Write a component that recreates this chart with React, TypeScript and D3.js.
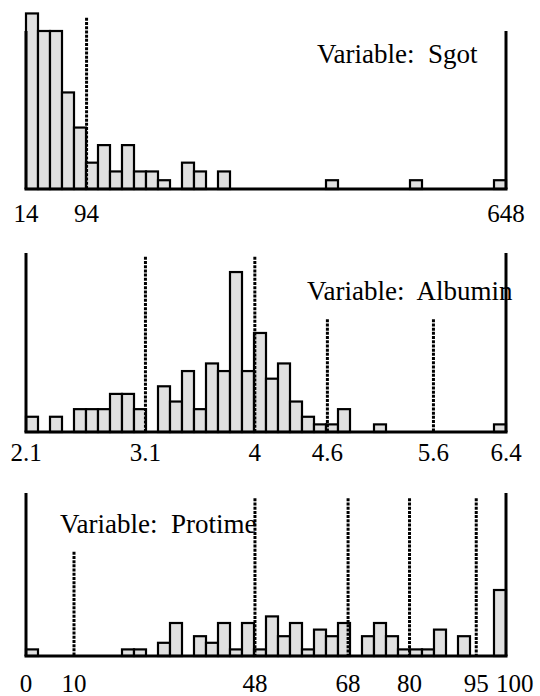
import React, { useEffect, useRef } from "react";
import * as d3 from "d3";

// counts per bin, 40 equal bins over the variable's range
const sgotCounts = [20, 18, 18, 11, 7, 3, 5, 2, 5, 2, 2, 1, 0, 3, 2, 0, 2, 0, 0, 0, 0, 0, 0, 0, 0, 1, 0, 0, 0, 0, 0, 0, 1, 0, 0, 0, 0, 0, 0, 1];
const sgotRange = [14, 648];
const sgotCuts = [94];
const sgotCutHeights = [19.5];
const sgotTicks = [14, 94, 648];
const sgotTickLabels = ["14", "94", "648"];

const albuminCounts = [2, 0, 2, 0, 3, 3, 3, 5, 5, 3, 0, 6, 4, 8, 3, 9, 8, 21, 8, 13, 7, 9, 4, 2, 1, 1, 3, 0, 0, 1, 0, 0, 0, 0, 0, 0, 0, 0, 0, 1];
const albuminRange = [2.1, 6.4];
const albuminCuts = [3.17, 4.15, 4.8, 5.75];
const albuminCutHeights = [23, 23, 14.8, 14.8];
const albuminTicks = [2.1, 3.17, 4.15, 4.8, 5.75, 6.4];
const albuminTickLabels = ["2.1", "3.1", "4", "4.6", "5.6", "6.4"];

const protimeCounts = [1, 0, 0, 0, 0, 0, 0, 0, 1, 1, 0, 2, 5, 0, 3, 2, 5, 1, 5, 1, 6, 3, 5, 1, 4, 3, 5, 0, 3, 5, 3, 1, 1, 1, 4, 0, 3, 0, 0, 10];
const protimeRange = [0, 100];
const protimeCuts = [10, 47.7, 67.1, 79.9, 93.8];
const protimeCutHeights = [15.8, 23.9, 23.9, 23.9, 23.9];
const protimeTicks = [0, 10, 47.7, 67.1, 79.9, 93.8, 100];
const protimeTickLabels = ["0", "10", "48", "68", "80", "95", "100"];

const panels = [
  { name: "Sgot", counts: sgotCounts, range: sgotRange, cuts: sgotCuts, cutH: sgotCutHeights, ticks: sgotTicks, tickLabels: sgotTickLabels,
    top: 31, base: 189, yMax: 18, labelY: 221.5, titleX: 317, titleY: 63 },
  { name: "Albumin", counts: albuminCounts, range: albuminRange, cuts: albuminCuts, cutH: albuminCutHeights, ticks: albuminTicks, tickLabels: albuminTickLabels,
    top: 253, base: 432, yMax: 23.5, labelY: 461, titleX: 307, titleY: 300 },
  { name: "Protime", counts: protimeCounts, range: protimeRange, cuts: protimeCuts, cutH: protimeCutHeights, ticks: protimeTicks, tickLabels: protimeTickLabels,
    top: 493, base: 656, yMax: 24.7, labelY: 691.5, titleX: 60, titleY: 533 },
];

const left = 26, right = 506;
const font = "'Liberation Serif', 'Times New Roman', serif";

export default function App() {
  const ref = useRef<SVGSVGElement>(null);

  useEffect(() => {
    const svg = d3.select(ref.current);
    svg.selectAll("*").remove();

    panels.forEach((p) => {
      const g = svg.append("g").attr("class", "panel_" + p.name);
      const x = d3.scaleLinear().domain(p.range).range([left, right]);
      const y = d3.scaleLinear().domain([0, p.yMax]).range([p.base, p.top]);
      const nb = p.counts.length;
      const step = (p.range[1] - p.range[0]) / nb;

      const bins = p.counts.map((c, i) => ({ c, x0: p.range[0] + i * step, x1: p.range[0] + (i + 1) * step })).filter((d) => d.c > 0);

      g.selectAll(".bar")
        .data(bins)
        .join("rect")
        .attr("class", "bar")
        .attr("x", (d) => x(d.x0))
        .attr("width", (d) => x(d.x1) - x(d.x0))
        .attr("y", (d) => y(d.c))
        .attr("height", (d) => y(0) - y(d.c))
        .style("fill", "#e0e0e0")
        .style("stroke", "#000")
        .style("stroke-width", 2.2);

      // axes: left, right and baseline
      g.append("line").attr("x1", left).attr("x2", left).attr("y1", p.top).attr("y2", p.base).style("stroke", "#000").style("stroke-width", 3);
      g.append("line").attr("x1", right).attr("x2", right).attr("y1", p.top).attr("y2", p.base).style("stroke", "#000").style("stroke-width", 3);
      g.append("line").attr("x1", left - 1.5).attr("x2", right + 1.5).attr("y1", p.base).attr("y2", p.base).style("stroke", "#000").style("stroke-width", 3);

      g.selectAll(".cut")
        .data(p.cuts)
        .join("line")
        .attr("class", "cut")
        .attr("x1", (d) => x(d))
        .attr("x2", (d) => x(d))
        .attr("y1", (d, i) => y(p.cutH[i]))
        .attr("y2", p.base)
        .style("stroke", "#000")
        .style("stroke-width", 3)
        .style("stroke-dasharray", "3 1.2");

      // tick labels, pushed apart when two would touch
      const lx = p.ticks.map((d) => x(d));
      const halfW = p.tickLabels.map((t) => t.length * 6.5);
      for (let i = 1; i < lx.length; i++) {
        const minGap = halfW[i - 1] + halfW[i] + 6;
        if (lx[i] - lx[i - 1] < minGap) lx[i] = lx[i - 1] + minGap;
      }

      g.selectAll(".tick_label")
        .data(p.tickLabels)
        .join("text")
        .attr("class", "tick_label")
        .attr("x", (d, i) => lx[i])
        .attr("y", p.labelY)
        .attr("text-anchor", "middle")
        .style("font-family", font)
        .style("font-size", "25px")
        .text((d) => d);

      g.append("text")
        .attr("x", p.titleX)
        .attr("y", p.titleY)
        .style("font-family", font)
        .style("font-size", "27px")
        .style("white-space", "pre")
        .text("Variable:  " + p.name);
    });
  }, []);

  return (
    <svg ref={ref} width={540} height={696} style={{ position: "absolute", left: 0, top: 0, background: "#fff" }}></svg>
  );
}
